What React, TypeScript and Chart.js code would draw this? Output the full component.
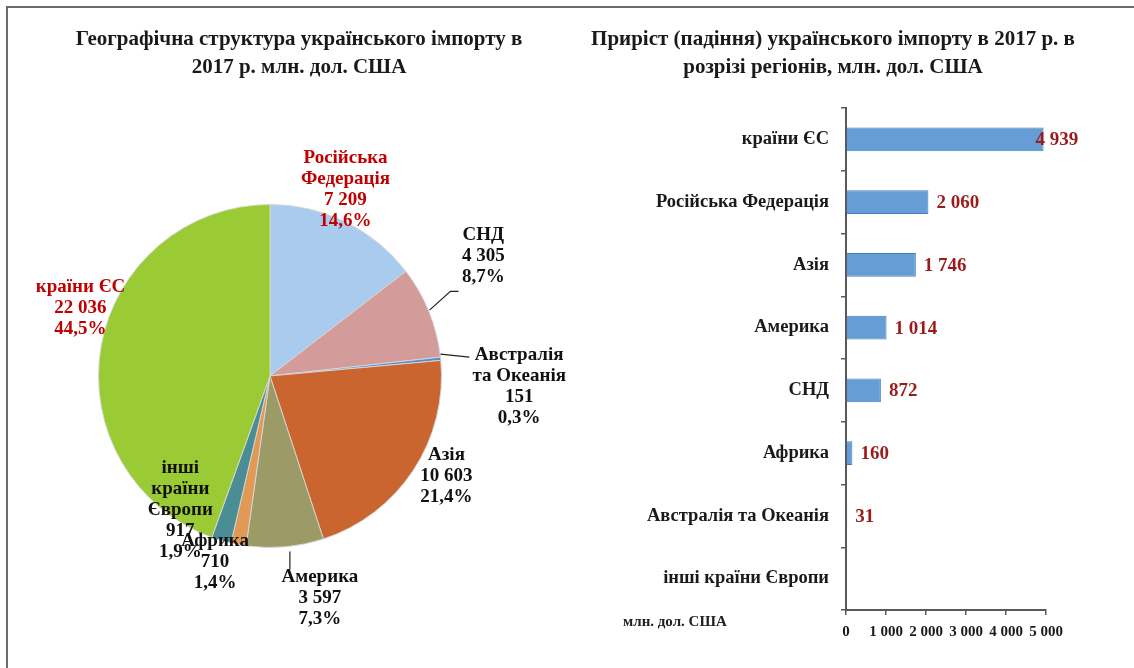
import React, { useEffect, useRef } from 'react';
import { Chart, registerables } from 'chart.js';

Chart.register(...registerables);

// ---------- data ----------
const pieCategories = ['Російська Федерація', 'СНД', 'Австралія та Океанія', 'Азія', 'Америка', 'Африка', 'інші країни Європи', 'країни ЄС'];
const pieValues = [7209, 4305, 151, 10603, 3597, 710, 917, 22036];
const pieValueLabels = ['7 209', '4 305', '151', '10 603', '3 597', '710', '917', '22 036'];
const pieShares = ['14,6%', '8,7%', '0,3%', '21,4%', '7,3%', '1,4%', '1,9%', '44,5%'];
const pieNameLines = [['Російська', 'Федерація'], ['СНД'], ['Австралія', 'та Океанія'], ['Азія'], ['Америка'], ['Африка'], ['інші', 'країни', 'Європи'], ['країни ЄС']];

const barCategories = ['країни ЄС', 'Російська Федерація', 'Азія', 'Америка', 'СНД', 'Африка', 'Австралія та Океанія', 'інші країни Європи'];
const barValues: (number | null)[] = [4939, 2060, 1746, 1014, 872, 160, 31, null];
const barValueLabels = ['4 939', '2 060', '1 746', '1 014', '872', '160', '31', ''];
const xTickLabels = ['0', '1 000', '2 000', '3 000', '4 000', '5 000'];

const leftTitle = ['Географічна структура українського імпорту в', '2017 р. млн. дол. США'];
const rightTitle = ['Приріст (падіння) українського імпорту в 2017 р. в', 'розрізі регіонів, млн. дол. США'];
const unitLabel = 'млн. дол. США';

// ---------- styles ----------
const FONT = '"Liberation Serif", "Times New Roman", serif';
const TITLE_SIZE = 21;
const pieColors = ['#a9cbee', '#d39b9a', '#5a8ccc', '#cb6530', '#9c9a66', '#e09a55', '#4b8d94', '#9acb34'];
// label anchors in units of pie radius, relative to pie centre
const pieLabelStyle = [
  { dx: 0.44, dy: -1.087, color: '#c00000' },
  { dx: 1.244, dy: -0.698, color: '#111111' },
  { dx: 1.453, dy: 0.064, color: '#111111' },
  { dx: 1.029, dy: 0.581, color: '#111111' },
  { dx: 0.291, dy: 1.297, color: '#111111' },
  { dx: -0.32, dy: 1.087, color: '#111111' },
  { dx: -0.523, dy: 0.779, color: '#111111' },
  { dx: -1.105, dy: -0.395, color: '#c00000' },
];
const leaderLines = [
  [[0.93, -0.384], [1.052, -0.494], [1.099, -0.494]],
  [[0.994, -0.128], [1.163, -0.11]],
  [[0.116, 1.023], [0.116, 1.128]],
];

const makeTitlePlugin = (lines: string[], centerX: number) => ({
  id: 'fixedTitle',
  afterDraw(chart: any) {
    const ctx = chart.ctx;
    ctx.save();
    ctx.font = `bold ${TITLE_SIZE}px ${FONT}`;
    ctx.fillStyle = '#1a1a1a';
    ctx.textAlign = 'center';
    ctx.textBaseline = 'middle';
    lines.forEach((t, i) => ctx.fillText(t, centerX, 40 + i * 28));
    ctx.restore();
  },
});

const pieLabelPlugin = {
  id: 'pieLabels',
  afterDatasetsDraw(chart: any) {
    const ctx = chart.ctx;
    const meta = chart.getDatasetMeta(0);
    const first = meta.data[0] as any;
    const cx = first.x, cy = first.y, r = first.outerRadius;
    ctx.save();
    ctx.strokeStyle = '#222';
    ctx.lineWidth = 1.2;
    leaderLines.forEach((pts) => {
      ctx.beginPath();
      pts.forEach((p, k) => {
        const px = cx + p[0] * r, py = cy + p[1] * r;
        if (k === 0) ctx.moveTo(px, py); else ctx.lineTo(px, py);
      });
      ctx.stroke();
    });
    ctx.font = `bold 19px ${FONT}`;
    ctx.textAlign = 'center';
    ctx.textBaseline = 'middle';
    const lh = 21;
    meta.data.forEach((_el: any, i: number) => {
      const st = pieLabelStyle[i];
      const lines = [...pieNameLines[i], pieValueLabels[i], pieShares[i]];
      const lx = cx + st.dx * r, ly = cy + st.dy * r;
      const startY = ly - ((lines.length - 1) * lh) / 2;
      ctx.fillStyle = st.color;
      lines.forEach((t, j) => ctx.fillText(t, lx, startY + j * lh));
    });
    ctx.restore();
  },
};

const barLabelPlugin = {
  id: 'barLabels',
  afterDatasetsDraw(chart: any) {
    const ctx = chart.ctx;
    const meta = chart.getDatasetMeta(0);
    ctx.save();
    ctx.font = `bold 19px ${FONT}`;
    ctx.fillStyle = '#9b1b1b';
    ctx.textBaseline = 'middle';
    ctx.textAlign = 'left';
    meta.data.forEach((el: any, i: number) => {
      const t = barValueLabels[i];
      if (!t || barValues[i] == null) return;
      const w = ctx.measureText(t).width;
      let x = el.x + 8;
      if (x + w > chart.width - 2) x = el.x - 8;
      ctx.fillText(t, x, el.y + 1);
    });
    // unit label
    ctx.font = `bold 15px ${FONT}`;
    ctx.fillStyle = '#222';
    ctx.fillText(unitLabel, chart.chartArea.left - 223, chart.chartArea.bottom + 12);
    ctx.restore();
  },
};

export default function App() {
  const pieRef = useRef<HTMLCanvasElement>(null);
  const barRef = useRef<HTMLCanvasElement>(null);

  useEffect(() => {
    Chart.defaults.font.family = FONT;
    const pie = new Chart(pieRef.current as HTMLCanvasElement, {
      type: 'pie',
      data: {
        labels: pieCategories,
        datasets: [{
          data: pieValues,
          backgroundColor: pieColors,
          borderColor: 'rgba(215,215,215,0.9)',
          borderWidth: 1,
        }],
      },
      options: {
        responsive: false,
        animation: false,
        layout: { padding: { top: 204, bottom: 120, left: 98, right: 158 } },
        plugins: {
          legend: { display: false },
          tooltip: { enabled: false },
          title: { display: false },
        },
      },
      plugins: [pieLabelPlugin, makeTitlePlugin(leftTitle, 299)],
    });

    const bar = new Chart(barRef.current as HTMLCanvasElement, {
      type: 'bar',
      data: {
        labels: barCategories,
        datasets: [{
          data: barValues,
          backgroundColor: '#659ed6',
          borderColor: '#4a7db8',
          borderWidth: 1,
          categoryPercentage: 1,
          barPercentage: 0.38,
        }],
      },
      options: {
        indexAxis: 'y',
        responsive: false,
        animation: false,
        layout: { padding: { top: 108, bottom: 18, left: 0, right: 40 } },
        plugins: {
          legend: { display: false },
          tooltip: { enabled: false },
          title: { display: false },
        },
        scales: {
          x: {
            min: 0,
            max: 5000,
            ticks: {
              stepSize: 1000,
              color: '#1a1a1a',
              font: { family: FONT, size: 15, weight: 'bold' },
              padding: 8,
              maxRotation: 0,
              autoSkip: false,
              callback: (_v: any, i: number) => xTickLabels[i],
            },
            grid: { drawOnChartArea: false, tickLength: 5, color: '#595959', lineWidth: 1.5 },
            border: { display: true, color: '#595959', width: 2 },
            afterFit: (s: any) => { s.height = 40; },
          },
          y: {
            ticks: {
              color: '#1a1a1a',
              font: { family: FONT, size: 18.5, weight: 'bold' },
              padding: 12,
              autoSkip: false,
            },
            grid: { drawOnChartArea: false, offset: true, tickLength: 5, color: '#595959', lineWidth: 1.5 },
            border: { display: true, color: '#595959', width: 2 },
            afterFit: (s: any) => { s.width = 266; },
          },
        },
      },
      plugins: [barLabelPlugin, makeTitlePlugin(rightTitle, 253)],
    });

    return () => { pie.destroy(); bar.destroy(); };
  }, []);

  return (
    <div style={{ position: 'absolute', left: 0, top: 0, width: 1134, height: 668, background: '#ffffff', overflow: 'hidden' }}>
      <div style={{ position: 'absolute', left: 6, top: 6, right: -4, bottom: -4, borderTop: '2px solid #6b6b6b', borderLeft: '2px solid #6b6b6b' }} />
      <canvas ref={pieRef} width={600} height={668} style={{ position: 'absolute', left: 0, top: 0 }} />
      <canvas ref={barRef} width={506} height={668} style={{ position: 'absolute', left: 580, top: 0 }} />
    </div>
  );
}
